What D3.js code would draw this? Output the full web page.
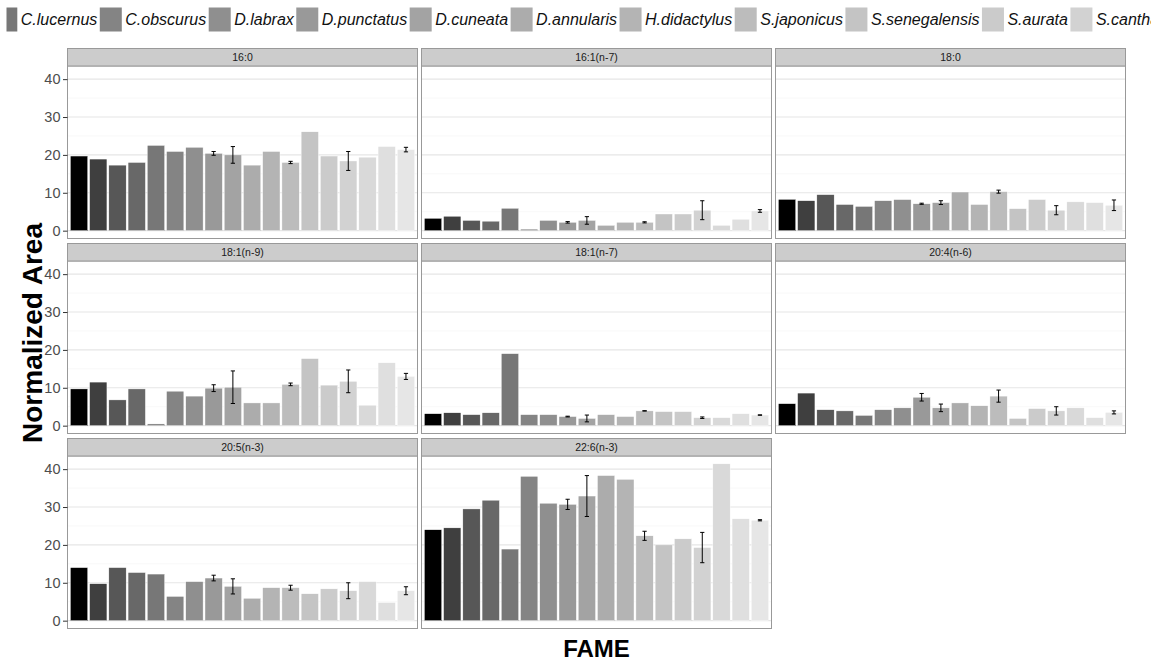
<!DOCTYPE html>
<html>
<head>
<meta charset="utf-8">
<script src="https://cdn.jsdelivr.net/npm/d3@7"></script>
<style>
html,body{margin:0;padding:0;background:#fff;}
svg{display:block;font-family:"Liberation Sans",Arial,sans-serif;}
</style>
</head>
<body>
<svg id="chart" width="1151" height="662"></svg>
<script>
// ---- data ----
const species = ["A.boyeri","B.boops","C.labrosus","C.conger","C.lucernus","C.obscurus","D.labrax","D.punctatus","D.cuneata","D.annularis","H.didactylus","S.japonicus","S.senegalensis","S.aurata","S.cantharus","S.salpa","S.solea","T.trachurus"];
const legendFirstVisible = "C.lucernus";
const legendLastVisible = "S.cantharus";
const fames = ["16:0","16:1(n-7)","18:0","18:1(n-9)","18:1(n-7)","20:4(n-6)","20:5(n-3)","22:6(n-3)"];
const yTicks = [0,10,20,30,40];

const v16_0   = [19.7,18.9,17.3,18.0,22.5,20.9,22.0,20.4,20.0,17.3,20.9,18.0,26.1,19.7,18.4,19.4,22.2,21.4];
const e16_0   = [null,null,null,null,null,null,null,0.5,2.2,null,null,0.3,null,null,2.5,null,null,0.6];
const v16_1n7 = [3.25,3.8,2.7,2.5,5.9,0.4,2.7,2.2,2.7,1.4,2.2,2.2,4.4,4.4,5.4,1.4,3.0,5.2];
const e16_1n7 = [null,null,null,null,null,null,null,0.2,1.0,null,null,0.15,null,null,2.5,null,null,0.35];
const v18_0   = [8.26,7.9,9.5,6.9,6.4,7.9,8.2,7.1,7.4,10.2,6.9,10.3,5.8,8.2,5.4,7.6,7.4,6.7];
const e18_0   = [null,null,null,null,null,null,null,0.15,0.5,null,null,0.4,null,null,1.2,null,null,1.4];
const v18_1n9 = [9.7,11.5,6.8,9.7,0.45,9.1,7.8,9.9,10.15,6.0,6.0,10.9,17.7,10.7,11.7,5.4,16.6,13.0];
const e18_1n9 = [null,null,null,null,null,null,null,0.9,4.3,null,null,0.35,null,null,3.0,null,null,0.8];
const v18_1n7 = [3.15,3.4,2.9,3.4,19.0,2.9,2.9,2.4,1.9,2.9,2.4,3.9,3.7,3.7,2.1,2.1,3.15,2.8];
const e18_1n7 = [null,null,null,null,null,null,null,0.1,0.9,null,null,0.05,null,null,0.2,null,null,0.05];
const v20_4n6 = [5.8,8.6,4.2,3.9,2.7,4.2,4.7,7.5,4.7,6.0,5.25,7.8,1.9,4.5,3.9,4.7,2.1,3.5];
const e20_4n6 = [null,null,null,null,null,null,null,1.0,1.0,null,null,1.6,null,null,1.1,null,null,0.4];
const v20_5n3 = [14.0,9.75,14.0,12.7,12.3,6.4,10.3,11.25,9.05,5.9,8.7,8.7,7.1,8.4,7.9,10.3,4.8,7.9];
const e20_5n3 = [null,null,null,null,null,null,null,0.75,2.0,null,null,0.65,null,null,2.1,null,null,1.05];
const v22_6n3 = [24.0,24.5,29.5,31.8,18.9,38.1,31.0,30.7,32.9,38.3,37.3,22.4,20.0,21.6,19.3,41.4,26.9,26.5];
const e22_6n3 = [null,null,null,null,null,null,null,1.35,5.4,null,null,1.2,null,null,4.0,null,null,0.15];

const values = [v16_0,v16_1n7,v18_0,v18_1n9,v18_1n7,v20_4n6,v20_5n3,v22_6n3];
const errors = [e16_0,e16_1n7,e18_0,e18_1n9,e18_1n7,e20_4n6,e20_5n3,e22_6n3];

// ---- layout ----
const svg = d3.select("#chart");
const nCols = 3, panelX0 = 67.5, panelW = 350, colGap = 4;
const stripTop0 = 48.5, rowPitch = 195, stripH = 17.5, panelH = 172.5;

const fill = d3.scaleOrdinal().domain(species).range(species.map((s,i)=>{
  const v = 0.9*Math.pow(i/(species.length-1), 1/2.2);
  const c = Math.round(v*255);
  return d3.rgb(c,c,c).formatHex();
}));

let maxV = 0;
values.forEach((arr,k)=>arr.forEach((v,i)=>{ maxV = Math.max(maxV, v + (errors[k][i]||0)); }));
const pad = maxV*0.05;
const yDomain = [-pad, maxV+pad];

const x = d3.scaleBand().domain(species).range([0,panelW]).paddingInner(0.1).paddingOuter(0.15);

fames.forEach((fame,k)=>{
  const col = k % nCols, row = Math.floor(k / nCols);
  const px = panelX0 + col*(panelW+colGap);
  const st = stripTop0 + row*rowPitch;
  const pt = st + stripH;
  const y = d3.scaleLinear().domain(yDomain).range([panelH,0]);
  const g = svg.append("g").attr("transform",`translate(${px},${pt})`);

  g.append("rect").attr("width",panelW).attr("height",panelH).attr("fill","#fff");
  g.selectAll(".minor").data([5,15,25,35]).enter().append("line")
    .attr("x1",0).attr("x2",panelW).attr("y1",d=>y(d)).attr("y2",d=>y(d))
    .attr("stroke","#f3f3f3").attr("stroke-width",0.6);
  g.selectAll(".major").data(yTicks).enter().append("line")
    .attr("x1",0).attr("x2",panelW).attr("y1",d=>y(d)).attr("y2",d=>y(d))
    .attr("stroke","#e6e6e6").attr("stroke-width",1.1);

  const data = species.map((s,i)=>({s, v:values[k][i], e:errors[k][i]}));
  g.selectAll(".bar").data(data).enter().append("rect")
    .attr("x",d=>x(d.s)).attr("width",x.bandwidth())
    .attr("y",d=>y(d.v)).attr("height",d=>y(0)-y(d.v))
    .attr("fill",d=>fill(d.s))
    .attr("stroke","#fff").attr("stroke-width",0.4);

  const eb = data.filter(d=>d.e!=null);
  const capW = x.step()*0.22;
  const cx = d=>x(d.s)+x.bandwidth()/2;
  const ebG = g.selectAll(".eb").data(eb).enter().append("g")
    .attr("stroke","#000").attr("stroke-width",1);
  ebG.append("line").attr("x1",cx).attr("x2",cx)
    .attr("y1",d=>y(d.v-d.e)).attr("y2",d=>y(d.v+d.e));
  ebG.append("line").attr("x1",d=>cx(d)-capW/2).attr("x2",d=>cx(d)+capW/2)
    .attr("y1",d=>y(d.v-d.e)).attr("y2",d=>y(d.v-d.e));
  ebG.append("line").attr("x1",d=>cx(d)-capW/2).attr("x2",d=>cx(d)+capW/2)
    .attr("y1",d=>y(d.v+d.e)).attr("y2",d=>y(d.v+d.e));

  g.append("rect").attr("width",panelW).attr("height",panelH)
    .attr("fill","none").attr("stroke","#999").attr("stroke-width",1);

  svg.append("rect").attr("x",px).attr("y",st).attr("width",panelW).attr("height",stripH)
    .attr("fill","#cccccc").attr("stroke","#999").attr("stroke-width",1);
  svg.append("text").attr("x",px+panelW/2).attr("y",st+stripH/2+3.6)
    .attr("text-anchor","middle").attr("font-size","10.5px").attr("fill","#1a1a1a").text(fame);

  if (col === 0) {
    const ax = g.append("g").call(d3.axisLeft(y).tickValues(yTicks).tickSize(4.5).tickPadding(2.5));
    ax.select(".domain").remove();
    ax.selectAll("line").attr("stroke","#333");
    ax.selectAll("text").attr("font-size","14.5px").attr("fill","#4d4d4d")
      .attr("font-family","'Liberation Sans',Arial,sans-serif");
  }
});

// axis titles
svg.append("text").attr("x",panelX0 + (nCols*panelW+(nCols-1)*colGap)/2).attr("y",657)
  .attr("text-anchor","middle").attr("font-size","24px").attr("font-weight","bold").attr("fill","#000").text("FAME");
svg.append("text").attr("transform",`translate(42,333) rotate(-90)`)
  .attr("text-anchor","middle").attr("font-size","28px").attr("font-weight","bold").attr("fill","#000").text("Normalized Area");

// legend (reference shows it overflowing the page; only the visible part is drawn)
svg.append("defs").append("clipPath").attr("id","legclip")
  .append("rect").attr("x",6.5).attr("y",0).attr("width",1151-6.5).attr("height",40);
const lg = svg.append("g").attr("clip-path","url(#legclip)");
const legItems = species.slice(species.indexOf(legendFirstVisible), species.indexOf(legendLastVisible)+1);
const keyW = 22, keyH = 24, keyY = 7.5, gapKT = 3.5, gapAfter = 2.5;
const items = lg.selectAll(".li").data(legItems).enter().append("g");
items.append("rect").attr("width",keyW).attr("height",keyH).attr("y",keyY).attr("fill",d=>fill(d));
const texts = items.append("text").attr("x",keyW+gapKT).attr("y",keyY+keyH/2+5.6)
  .attr("font-size","16px").attr("font-style","italic").attr("fill","#111").text(d=>d);
let pos = [], cur = -4.7;
texts.each(function(d,i){ pos[i] = cur; cur += keyW + gapKT + this.getComputedTextLength() + gapAfter; });
items.attr("transform",(d,i)=>`translate(${pos[i]},0)`);
</script>
</body>
</html>
